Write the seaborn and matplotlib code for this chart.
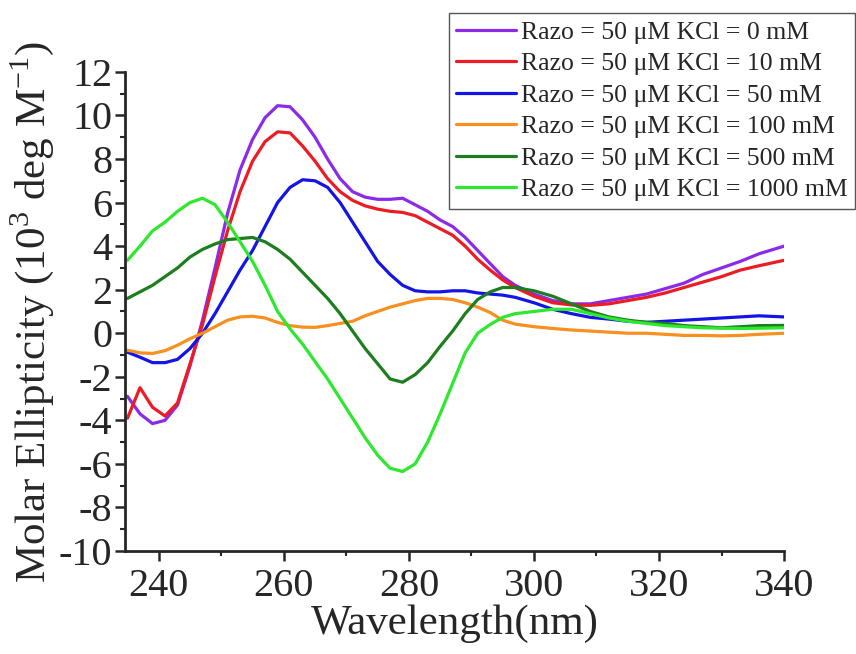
import matplotlib
matplotlib.use("Agg")
import matplotlib.pyplot as plt
from matplotlib.ticker import MultipleLocator, AutoMinorLocator
import seaborn as sns
import pandas as pd

# CD spectra, values (10^3 deg M^-1)
wavelength = [235, 237, 239, 241, 243, 245, 247, 249, 251, 253, 255, 257, 259, 261,
              263, 265, 267, 269, 271, 273, 275, 277, 279, 281, 283, 285, 287, 289,
              291, 293, 295, 297, 300, 303, 306, 309, 312, 315, 318, 321, 324, 327,
              330, 333, 336, 340]

kcl_0 = [-2.9, -3.7, -4.15, -4.0, -3.3, -1.5, 0.6, 3.0, 5.5, 7.5, 8.9, 9.9, 10.45, 10.4,
         9.8, 9.0, 8.0, 7.1, 6.5, 6.25, 6.15, 6.15, 6.2, 5.9, 5.6, 5.2, 4.9, 4.4,
         3.8, 3.2, 2.6, 2.2, 1.8, 1.5, 1.35, 1.35, 1.5, 1.65, 1.8, 2.05, 2.3, 2.7,
         3.0, 3.3, 3.65, 4.0]
kcl_10 = [-3.9, -2.5, -3.4, -3.8, -3.2, -1.4, 0.4, 2.6, 4.7, 6.5, 7.9, 8.8, 9.25, 9.2,
          8.6, 7.9, 7.1, 6.5, 6.1, 5.85, 5.7, 5.6, 5.55, 5.4, 5.1, 4.8, 4.5, 4.0,
          3.4, 2.9, 2.45, 2.1, 1.7, 1.4, 1.3, 1.28, 1.35, 1.5, 1.65, 1.85, 2.1, 2.35,
          2.6, 2.9, 3.1, 3.35]
kcl_50 = [-0.87, -1.1, -1.35, -1.35, -1.2, -0.7, 0.0, 0.9, 1.9, 2.9, 3.8, 4.9, 6.0, 6.7,
          7.05, 7.0, 6.7, 6.0, 5.1, 4.2, 3.3, 2.7, 2.2, 1.95, 1.9, 1.9, 1.95, 1.95,
          1.85, 1.8, 1.75, 1.65, 1.4, 1.1, 0.9, 0.73, 0.65, 0.55, 0.5, 0.55, 0.6, 0.65,
          0.7, 0.75, 0.8, 0.75]
kcl_100 = [-0.78, -0.9, -0.93, -0.8, -0.55, -0.25, 0.0, 0.3, 0.6, 0.75, 0.78, 0.7, 0.5, 0.35,
           0.28, 0.27, 0.35, 0.45, 0.55, 0.8, 1.0, 1.2, 1.35, 1.5, 1.6, 1.6, 1.55, 1.4,
           1.2, 0.95, 0.6, 0.42, 0.3, 0.22, 0.15, 0.1, 0.05, 0.0, 0.0, -0.05, -0.1, -0.1,
           -0.12, -0.1, -0.05, 0.0]
kcl_500 = [1.6, 1.9, 2.2, 2.6, 3.0, 3.5, 3.85, 4.1, 4.3, 4.35, 4.4, 4.2, 3.85, 3.4,
           2.8, 2.2, 1.6, 0.9, 0.1, -0.7, -1.4, -2.1, -2.25, -1.9, -1.35, -0.6, 0.1, 0.9,
           1.55, 1.9, 2.1, 2.1, 1.95, 1.7, 1.35, 1.0, 0.75, 0.6, 0.5, 0.45, 0.35, 0.3,
           0.25, 0.3, 0.35, 0.36]
kcl_1000 = [3.35, 4.0, 4.7, 5.1, 5.6, 6.0, 6.2, 5.9, 5.1, 4.2, 3.3, 2.2, 1.0, 0.2,
            -0.5, -1.3, -2.1, -3.0, -3.9, -4.8, -5.6, -6.2, -6.35, -6.0, -5.0, -3.7, -2.3, -0.9,
            0.0, 0.4, 0.73, 0.9, 1.0, 1.1, 1.1, 0.9, 0.7, 0.55, 0.45, 0.35, 0.3, 0.25,
            0.23, 0.22, 0.23, 0.25]

labels = ["Razo = 50 μM KCl = 0 mM", "Razo = 50 μM KCl = 10 mM",
          "Razo = 50 μM KCl = 50 mM", "Razo = 50 μM KCl = 100 mM",
          "Razo = 50 μM KCl = 500 mM", "Razo = 50 μM KCl = 1000 mM"]
colors = ["#8b2be8", "#ec1c24", "#1414e6", "#f7901e", "#1e7d1e", "#2ee82e"]

series = [kcl_0, kcl_10, kcl_50, kcl_100, kcl_500, kcl_1000]
df = pd.concat(
    [pd.DataFrame({"Wavelength": wavelength, "Ellipticity": s, "Sample": lab})
     for s, lab in zip(series, labels)],
    ignore_index=True,
)

sns.set_style("ticks")
plt.rcParams["font.family"] = ["Liberation Serif", "DejaVu Serif"]
plt.rcParams["mathtext.fontset"] = "custom"
plt.rcParams["mathtext.rm"] = "Liberation Serif"
plt.rcParams["axes.unicode_minus"] = False

fig = plt.figure(figsize=(8.56, 6.54), dpi=100)
ax = fig.add_axes([0.146, 0.1575, 0.77, 0.7325])

sns.lineplot(data=df, x="Wavelength", y="Ellipticity", hue="Sample",
             palette=dict(zip(labels, colors)), estimator=None, linewidth=2.3,
             ax=ax, legend=False)

ax.set_xlim(234.6, 340)
ax.set_ylim(-10, 12)
ax.xaxis.set_major_locator(MultipleLocator(20))
ax.xaxis.set_minor_locator(AutoMinorLocator(2))
ax.yaxis.set_major_locator(MultipleLocator(2))
ax.yaxis.set_minor_locator(AutoMinorLocator(2))
ax.tick_params(which="major", direction="out", length=7, width=1.8, labelsize=29)
ax.tick_params(axis="x", which="major", pad=5)
ax.tick_params(axis="y", which="major", pad=2)
ax.tick_params(which="minor", direction="out", length=3.5, width=1.5)
for side in ["left", "bottom"]:
    ax.spines[side].set_linewidth(2.0)
sns.despine(ax=ax)

ax.set_xlabel("Wavelength(nm)", fontsize=31, labelpad=0)
ax.set_ylabel("Molar Ellipticity (10$^3$ deg M$^{\\mathrm{-1}}$)", fontsize=31, labelpad=2)

handles = [plt.Line2D([], [], color=c, linewidth=2.3) for c in colors]
leg = fig.legend(handles, labels, loc="upper right",
                 bbox_to_anchor=(855 / 856, 1 - 13 / 654),
                 fontsize=18.5, frameon=True, fancybox=False, framealpha=1,
                 edgecolor="#555555", handlelength=2.3, handletextpad=0.2,
                 labelspacing=0.33, borderpad=0.3, borderaxespad=0)
leg.get_frame().set_linewidth(1.0)

fig.savefig("out.png", dpi=100)
plt.close(fig)
